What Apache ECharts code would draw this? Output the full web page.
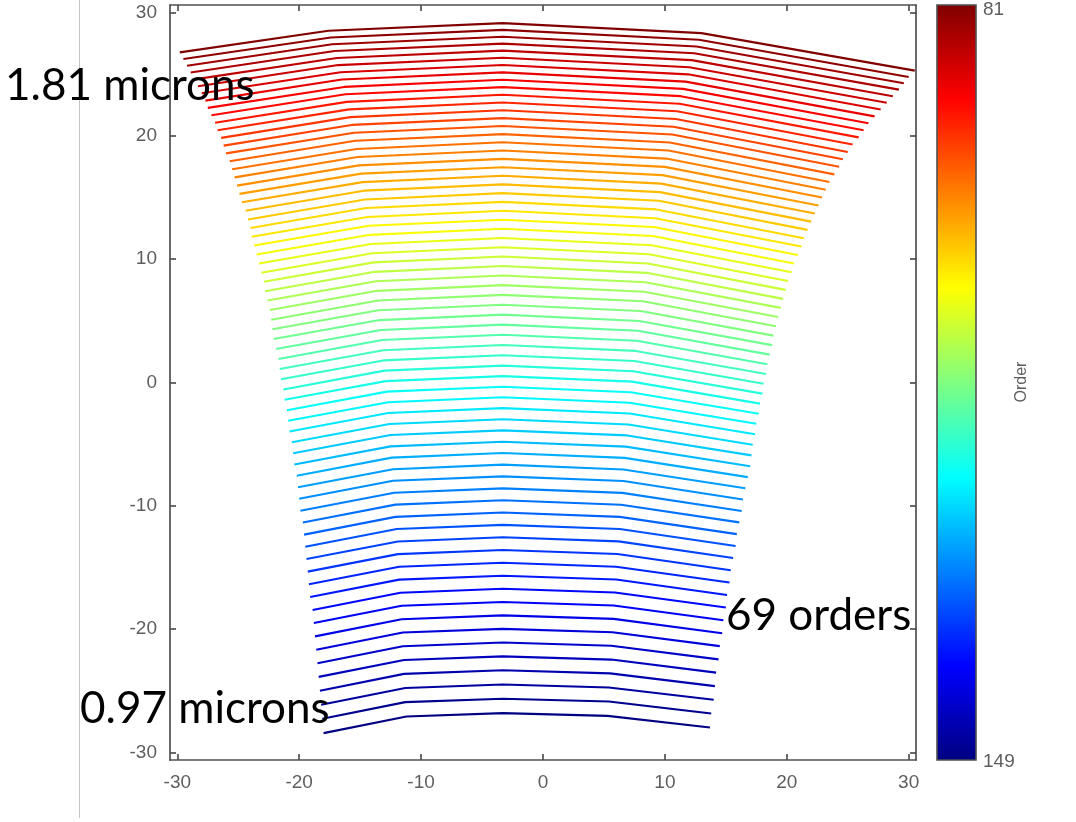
<!DOCTYPE html>
<html>
<head>
<meta charset="utf-8">
<script src="https://cdn.jsdelivr.net/npm/echarts@6.0.0/dist/echarts.min.js"></script>
<style>
  html, body { margin: 0; padding: 0; background: #ffffff; }
  #main { width: 1076px; height: 822px; }
</style>
</head>
<body>
<div id="main"></div>
<script>
// Echelle order numbers (top to bottom)
const orders = [81,82,83,84,85,86,87,88,89,90,91,92,93,94,95,96,97,98,99,100,
  101,102,103,104,105,106,107,108,109,110,111,112,113,114,115,116,117,118,119,120,
  121,122,123,124,125,126,127,128,129,130,131,132,133,134,135,136,137,138,139,140,
  141,142,143,144,145,146,147,148,149];

const tickValues = [-30, -20, -10, 0, 10, 20, 30];

// Each order is drawn through five sampled vertices: left end, bend 1, centre, bend 2, right end
const xLeft = [-29.8,-29.5,-29.2,-28.9,-28.6,-28.3,-28.0,-27.7,-27.5,-27.2,
  -26.9,-26.7,-26.4,-26.2,-26.0,-25.7,-25.5,-25.3,-25.1,-24.9,
  -24.7,-24.4,-24.2,-24.0,-23.9,-23.7,-23.5,-23.3,-23.1,-22.9,
  -22.8,-22.6,-22.4,-22.3,-22.2,-22.1,-21.9,-21.7,-21.6,-21.5,
  -21.3,-21.2,-21.0,-20.9,-20.8,-20.6,-20.5,-20.4,-20.2,-20.1,
  -20.0,-19.9,-19.7,-19.6,-19.5,-19.4,-19.3,-19.2,-19.1,-18.9,
  -18.8,-18.7,-18.6,-18.5,-18.4,-18.3,-18.2,-18.1,-18.0];
const xBend1 = [-17.6,-17.4,-17.3,-17.1,-16.9,-16.8,-16.6,-16.5,-16.3,-16.2,
  -16.1,-15.9,-15.8,-15.7,-15.5,-15.4,-15.3,-15.2,-15.1,-14.9,
  -14.8,-14.7,-14.6,-14.5,-14.4,-14.3,-14.2,-14.1,-14.0,-13.9,
  -13.8,-13.7,-13.6,-13.5,-13.5,-13.4,-13.3,-13.2,-13.1,-13.1,
  -13.0,-12.9,-12.8,-12.7,-12.7,-12.6,-12.5,-12.5,-12.4,-12.3,
  -12.3,-12.2,-12.1,-12.1,-12.0,-11.9,-11.9,-11.8,-11.8,-11.7,
  -11.6,-11.6,-11.5,-11.5,-11.4,-11.4,-11.3,-11.3,-11.2];
const xCenter = [-3.3,-3.3,-3.3,-3.3,-3.3,-3.3,-3.3,-3.3,-3.3,-3.3,
  -3.3,-3.3,-3.3,-3.3,-3.3,-3.3,-3.3,-3.3,-3.3,-3.3,
  -3.3,-3.3,-3.3,-3.3,-3.3,-3.3,-3.3,-3.3,-3.3,-3.3,
  -3.3,-3.3,-3.3,-3.3,-3.3,-3.3,-3.3,-3.3,-3.3,-3.3,
  -3.3,-3.3,-3.3,-3.3,-3.3,-3.3,-3.3,-3.3,-3.3,-3.3,
  -3.3,-3.3,-3.3,-3.3,-3.3,-3.3,-3.3,-3.3,-3.3,-3.3,
  -3.3,-3.3,-3.3,-3.3,-3.3,-3.3,-3.3,-3.3,-3.3];
const xBend2 = [13.0,12.8,12.6,12.4,12.2,12.0,11.9,11.7,11.5,11.3,
  11.2,11.0,10.9,10.7,10.6,10.4,10.3,10.1,10.0,9.8,
  9.7,9.6,9.5,9.3,9.2,9.1,9.0,8.9,8.7,8.6,
  8.5,8.4,8.3,8.2,8.0,7.9,7.8,7.7,7.6,7.5,
  7.4,7.3,7.2,7.1,7.1,7.0,6.9,6.8,6.7,6.6,
  6.6,6.5,6.4,6.3,6.3,6.2,6.1,6.0,6.0,5.9,
  5.8,5.8,5.7,5.6,5.6,5.5,5.4,5.4,5.3];
const xRight = [30.5,30.0,29.6,29.2,28.7,28.2,27.7,27.2,26.7,26.3,
  25.9,25.4,25.0,24.6,24.3,23.9,23.5,23.2,22.9,22.6,
  22.3,22.0,21.7,21.4,21.2,20.9,20.6,20.4,20.1,19.9,
  19.7,19.5,19.3,19.1,18.9,18.8,18.6,18.4,18.3,18.1,
  18.0,17.8,17.7,17.5,17.4,17.2,17.1,17.0,16.8,16.6,
  16.4,16.3,16.1,15.9,15.8,15.6,15.4,15.3,15.1,15.0,
  14.8,14.7,14.5,14.4,14.2,14.1,14.0,13.8,13.7];

const yLeft = [26.76,26.22,25.68,25.13,24.57,24.01,23.44,22.85,22.26,21.67,
  21.06,20.45,19.83,19.20,18.57,17.93,17.28,16.63,15.96,15.29,
  14.61,13.92,13.22,12.52,11.82,11.10,10.38,9.64,8.90,8.16,
  7.40,6.64,5.87,5.09,4.31,3.52,2.72,1.91,1.09,0.27,
  -0.56,-1.40,-2.25,-3.10,-3.97,-4.85,-5.74,-6.65,-7.56,-8.49,
  -9.43,-10.39,-11.35,-12.33,-13.31,-14.31,-15.33,-16.35,-17.39,-18.44,
  -19.50,-20.58,-21.66,-22.76,-23.86,-24.98,-26.12,-27.26,-28.42];
const yBend1 = [28.51,27.97,27.42,26.87,26.30,25.73,25.15,24.56,23.96,23.37,
  22.75,22.14,21.51,20.88,20.24,19.59,18.93,18.28,17.60,16.93,
  16.24,15.55,14.84,14.14,13.42,12.70,11.97,11.23,10.48,9.74,
  8.97,8.21,7.43,6.65,5.86,5.06,4.26,3.44,2.62,1.79,
  0.96,0.11,-0.74,-1.60,-2.47,-3.37,-4.26,-5.18,-6.09,-7.03,
  -7.97,-8.94,-9.90,-10.89,-11.88,-12.89,-13.91,-14.94,-15.98,-17.04,
  -18.10,-19.19,-20.27,-21.38,-22.49,-23.62,-24.76,-25.91,-27.07];
const yCenter = [29.13,28.58,28.03,27.47,26.90,26.32,25.74,25.14,24.54,23.94,
  23.32,22.70,22.07,21.43,20.79,20.13,19.47,18.81,18.13,17.45,
  16.76,16.06,15.35,14.64,13.92,13.19,12.46,11.71,10.96,10.21,
  9.44,8.67,7.89,7.10,6.30,5.50,4.69,3.87,3.04,2.21,
  1.37,0.52,-0.34,-1.20,-2.08,-2.98,-3.88,-4.80,-5.72,-6.66,
  -7.61,-8.58,-9.55,-10.54,-11.54,-12.55,-13.58,-14.61,-15.66,-16.72,
  -17.79,-18.88,-19.97,-21.08,-22.20,-23.33,-24.48,-25.63,-26.80];
const yBend2 = [28.32,27.78,27.24,26.69,26.13,25.55,24.98,24.39,23.80,23.21,
  22.60,21.99,21.36,20.73,20.10,19.45,18.80,18.15,17.48,16.81,
  16.12,15.43,14.73,14.03,13.32,12.60,11.88,11.13,10.39,9.65,
  8.89,8.13,7.36,6.58,5.79,4.99,4.19,3.38,2.56,1.74,
  0.91,0.07,-0.79,-1.64,-2.51,-3.40,-4.29,-5.20,-6.11,-7.05,
  -7.99,-8.95,-9.91,-10.89,-11.88,-12.88,-13.90,-14.93,-15.97,-17.02,
  -18.08,-19.16,-20.24,-21.34,-22.46,-23.58,-24.72,-25.86,-27.02];
const yRight = [25.28,24.77,24.26,23.74,23.21,22.67,22.13,21.57,21.01,20.45,
  19.87,19.29,18.69,18.09,17.49,16.87,16.25,15.63,14.99,14.35,
  13.70,13.04,12.37,11.70,11.02,10.33,9.64,8.93,8.22,7.51,
  6.78,6.05,5.31,4.56,3.80,3.03,2.26,1.48,0.69,-0.10,
  -0.90,-1.71,-2.53,-3.35,-4.19,-5.05,-5.91,-6.79,-7.67,-8.57,
  -9.48,-10.41,-11.34,-12.29,-13.25,-14.22,-15.22,-16.21,-17.22,-18.24,
  -19.27,-20.32,-21.37,-22.44,-23.52,-24.61,-25.72,-26.83,-27.96];

const orderMin = 81, orderMax = 149;

// MATLAB "jet" colour map: f = 0 -> dark blue, f = 1 -> dark red
function jet(f) {
  const c = v => Math.max(0, Math.min(1, v));
  const r = c(1.5 - Math.abs(4 * f - 3));
  const g = c(1.5 - Math.abs(4 * f - 2));
  const b = c(1.5 - Math.abs(4 * f - 1));
  return 'rgb(' + Math.round(r * 255) + ',' + Math.round(g * 255) + ',' + Math.round(b * 255) + ')';
}

const series = orders.map((m, i) => ({
  type: 'line',
  name: String(m),
  xAxisIndex: 0,
  yAxisIndex: 0,
  showSymbol: false,
  symbol: 'none',
  silent: true,
  animation: false,
  lineStyle: { color: jet((orderMax - m) / (orderMax - orderMin)), width: 2.1 },
  data: [
    [xLeft[i], yLeft[i]],
    [xBend1[i], yBend1[i]],
    [xCenter[i], yCenter[i]],
    [xBend2[i], yBend2[i]],
    [xRight[i], yRight[i]]
  ]
}));

const frameColor = '#505050';
const labelColor = '#5e5e5e';

function makeAxis(position, showLabel) {
  return {
    type: 'value',
    position: position,
    min: -30.6,
    max: 30.6,
    axisLine: { show: true, onZero: false, lineStyle: { color: frameColor, width: 1.7 } },
    axisTick: { show: true, inside: true, length: 6, customValues: tickValues,
      lineStyle: { color: frameColor, width: 1.7 } },
    axisLabel: { show: showLabel, customValues: tickValues, color: labelColor,
      fontSize: 19, fontFamily: 'Liberation Sans', margin: 13 },
    splitLine: { show: false }
  };
}

const jetStops = [
  { offset: 0, color: '#800000' },
  { offset: 0.125, color: '#ff0000' },
  { offset: 0.375, color: '#ffff00' },
  { offset: 0.625, color: '#00ffff' },
  { offset: 0.875, color: '#0000ff' },
  { offset: 1, color: '#000080' }
];

const annoFont = '44px Lato';

const option = {
  backgroundColor: '#ffffff',
  animation: false,
  grid: { left: 170, right: 160, top: 5, bottom: 62, containLabel: false },
  xAxis: [makeAxis('bottom', true), makeAxis('top', false)],
  yAxis: [makeAxis('left', true), makeAxis('right', false)],
  series: series,
  graphic: [
    { type: 'line', z: 1, silent: true,
      shape: { x1: 79.5, y1: 0, x2: 79.5, y2: 818 },
      style: { stroke: '#c4c4c4', lineWidth: 1 } },
    { type: 'rect', z: 5, silent: true,
      shape: { x: 937, y: 5, width: 39, height: 755 },
      style: { fill: new echarts.graphic.LinearGradient(0, 0, 0, 1, jetStops),
        stroke: frameColor, lineWidth: 1.6 } },
    { type: 'text', z: 5, silent: true, x: 983, y: 10,
      style: { text: String(orderMin), font: '19px "Liberation Sans"', fill: labelColor,
        textAlign: 'left', textVerticalAlign: 'middle' } },
    { type: 'text', z: 5, silent: true, x: 983, y: 762,
      style: { text: String(orderMax), font: '19px "Liberation Sans"', fill: labelColor,
        textAlign: 'left', textVerticalAlign: 'middle' } },
    { type: 'text', z: 5, silent: true, x: 1022, y: 382, rotation: Math.PI / 2,
      style: { text: 'Order', font: '16px "Liberation Sans"', fill: labelColor,
        textAlign: 'center', textVerticalAlign: 'middle' } },
    { type: 'text', z: 100, silent: true, x: 5, y: 86,
      style: { text: '1.81 microns', font: annoFont, fill: '#000000',
        textAlign: 'left', textVerticalAlign: 'middle' } },
    { type: 'text', z: 100, silent: true, x: 80, y: 709,
      style: { text: '0.97 microns', font: annoFont, fill: '#000000',
        textAlign: 'left', textVerticalAlign: 'middle' } },
    { type: 'text', z: 100, silent: true, x: 726, y: 616,
      style: { text: '69 orders', font: annoFont, fill: '#000000',
        textAlign: 'left', textVerticalAlign: 'middle' } }
  ]
};

const chart = echarts.init(document.getElementById('main'), null, { renderer: 'canvas' });
chart.setOption(option);
</script>
</body>
</html>
